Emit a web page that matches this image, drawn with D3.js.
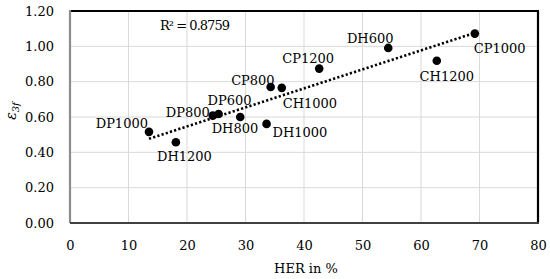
<!DOCTYPE html>
<html><head><meta charset="utf-8">
<script src="https://cdn.jsdelivr.net/npm/d3@7"></script>
<style>body{margin:0;background:#fff}svg{display:block}text{font-family:"DejaVu Serif",serif;fill:#000}</style>
</head><body><svg id="c" width="550" height="279"></svg>
<script>
const labels = ["DP1000","DH1200","DP800","DP600","DH800","DH1000","CP800","CH1000","CP1200","DH600","CH1200","CP1000"];
const herValues = [13.5,18.1,24.4,25.4,29.1,33.6,34.3,36.2,42.6,54.4,62.7,69.2];
const strainValues = [0.516,0.457,0.608,0.617,0.600,0.561,0.770,0.765,0.874,0.991,0.918,1.072];
const xTicks = [0,10,20,30,40,50,60,70,80];
const yTicks = [0,0.2,0.4,0.6,0.8,1.0,1.2];
const r2Text = "R² = 0.8759";
// label placement: [dx, dy, anchor]
const labelPos = {
  DP1000:[-1,-4,"end"], DH1200:[8.5,19,"middle"], DP800:[-3,1,"end"], DP600:[11,-9,"middle"],
  DH800:[18,16,"end"], DH1000:[6,13,"start"], CP800:[4,-2,"end"], CH1000:[1,20,"start"],
  CP1200:[-11,-6,"middle"], DH600:[-18,-5,"middle"], CH1200:[10,20.5,"middle"], CP1000:[-1,19,"start"]
};
const FS = "13px";
const svg = d3.select("#c");
const m = {l:70, r:538, t:11, b:223};
const x = d3.scaleLinear().domain([0,80]).range([m.l,m.r]);
const y = d3.scaleLinear().domain([0,1.2]).range([m.b,m.t]);
// grid
svg.append("g").selectAll("line").data(xTicks.slice(1,-1)).join("line")
  .attr("x1",d=>x(d)).attr("x2",d=>x(d)).attr("y1",m.t).attr("y2",m.b)
  .attr("stroke","#d9d9d9").attr("stroke-width",1);
svg.append("g").selectAll("line").data(yTicks.slice(1,-1)).join("line")
  .attr("y1",d=>y(d)).attr("y2",d=>y(d)).attr("x1",m.l).attr("x2",m.r)
  .attr("stroke","#d9d9d9").attr("stroke-width",1);
// frame
svg.append("line").attr("x1",m.l).attr("x2",m.r+1).attr("y1",m.t).attr("y2",m.t).attr("stroke","#000").attr("stroke-width",2.2);
svg.append("line").attr("x1",m.r).attr("x2",m.r).attr("y1",m.t).attr("y2",m.b).attr("stroke","#000").attr("stroke-width",2.2);
svg.append("line").attr("x1",m.l).attr("x2",m.l).attr("y1",m.t-1).attr("y2",m.b).attr("stroke","#8c8c8c").attr("stroke-width",2.2);
svg.append("line").attr("x1",m.l).attr("x2",m.r+1).attr("y1",m.b).attr("y2",m.b).attr("stroke","#404040").attr("stroke-width",2);
// axes tick labels
const xa = d3.axisBottom(x).tickValues(xTicks).tickSize(0).tickPadding(18).tickFormat(d3.format("d"));
const gx = svg.append("g").attr("transform",`translate(0,${m.b})`).call(xa);
gx.select(".domain").remove();
gx.selectAll("text").style("font-family","DejaVu Serif").style("font-size",FS).attr("fill","#000");
const ya = d3.axisLeft(y).tickValues(yTicks).tickSize(0).tickPadding(16).tickFormat(d3.format(".2f"));
const gy = svg.append("g").attr("transform",`translate(${m.l},0)`).call(ya);
gy.select(".domain").remove();
gy.selectAll("text").style("font-family","DejaVu Serif").style("font-size",FS).attr("fill","#000");
// titles
svg.append("text").attr("x",306).attr("y",273).attr("text-anchor","middle").style("font-size",FS).text("HER in %");
const yt = svg.append("text").attr("transform","translate(16,111) rotate(-90)").attr("text-anchor","middle").style("font-size","14px").style("font-style","italic");
yt.append("tspan").text("ε");
yt.append("tspan").attr("dy",3).style("font-size","10px").text("3f");
// trendline (least squares fit of the data)
const n = herValues.length;
const mx = d3.mean(herValues), my = d3.mean(strainValues);
let sxy=0,sxx=0;
for(let i=0;i<n;i++){sxy+=(herValues[i]-mx)*(strainValues[i]-my);sxx+=(herValues[i]-mx)**2;}
const slope=sxy/sxx, icpt=my-slope*mx;
const x0=d3.min(herValues), x1=d3.max(herValues);
svg.append("line").attr("x1",x(x0)).attr("y1",y(icpt+slope*x0)).attr("x2",x(x1)).attr("y2",y(icpt+slope*x1))
  .attr("stroke","#000").attr("stroke-width",2.6).attr("stroke-dasharray","2.2 2.2");
// points
const data = labels.map((l,i)=>({l, x:herValues[i], y:strainValues[i]}));
svg.append("g").selectAll("circle").data(data).join("circle")
  .attr("cx",d=>x(d.x)).attr("cy",d=>y(d.y)).attr("r",4.3).attr("fill","#000");
svg.append("g").selectAll("text").data(data).join("text")
  .attr("x",d=>x(d.x)+labelPos[d.l][0]).attr("y",d=>y(d.y)+labelPos[d.l][1])
  .attr("text-anchor",d=>labelPos[d.l][2]).style("font-size",FS).text(d=>d.l);
svg.append("text").attr("x",160).attr("y",30).style("font-size","13px").attr("textLength",70).text(r2Text);
</script></body></html>
